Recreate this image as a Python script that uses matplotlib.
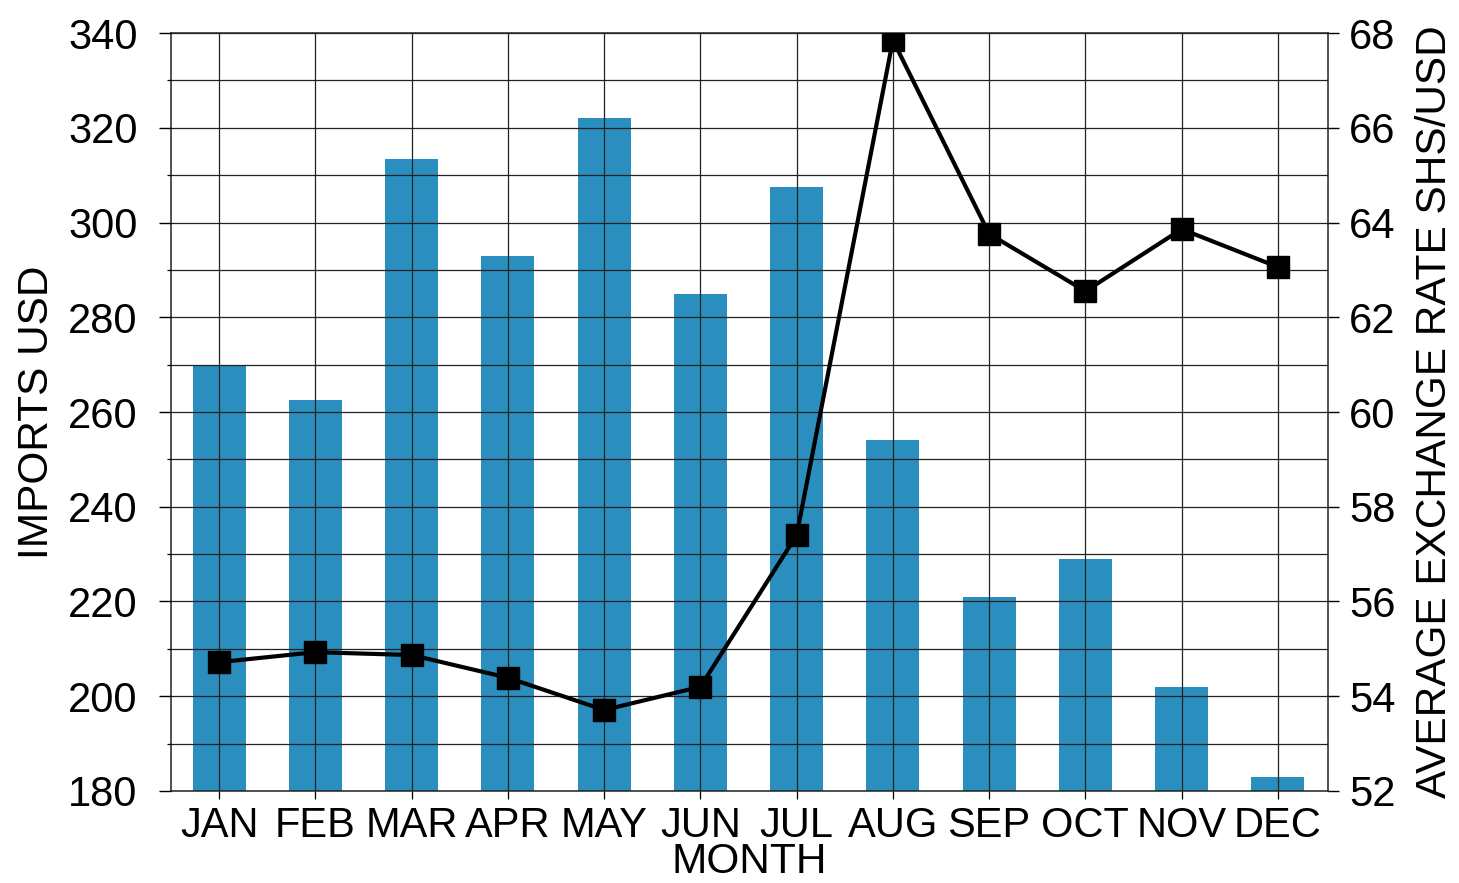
# Importaciones mensuales vs tipo de cambio promedio (SHS/USD)
import numpy as np
import matplotlib
matplotlib.use("Agg")
import matplotlib.pyplot as plt
from matplotlib.ticker import MultipleLocator

plt.rcParams['font.family'] = ['Liberation Sans', 'DejaVu Sans']

# Datos
months = ['JAN', 'FEB', 'MAR', 'APR', 'MAY', 'JUN', 'JUL', 'AUG', 'SEP', 'OCT', 'NOV', 'DEC']
imports_usd = [270, 262.5, 313.5, 293, 322, 285, 307.5, 254, 221, 229, 202, 183]
exchange_rate = [54.72, 54.93, 54.87, 54.39, 53.71, 54.2, 57.4, 67.85, 63.76, 62.55, 63.86, 63.06]

BAR_COLOR = '#2a8ebf'
GRID_COLOR = '#222222'
FS = 30
FS_LABEL = 30.5

fig = plt.figure(figsize=(14.59, 8.83), dpi=100)
ax = fig.add_axes([0.1172, 0.1042, 0.793, 0.8584])
x = np.arange(len(months))

ax.bar(x, imports_usd, width=0.55, color=BAR_COLOR, zorder=1)
ax.set_xlim(-0.5, 11.52)
ax.set_ylim(180, 340)
ax.set_axisbelow(False)

ax.yaxis.set_major_locator(MultipleLocator(20))
ax.yaxis.set_minor_locator(MultipleLocator(10))
ax.set_xticks(x)
ax.set_xticklabels(months)
ax.grid(True, which='both', axis='y', color=GRID_COLOR, lw=0.9)
ax.grid(True, which='major', axis='x', color=GRID_COLOR, lw=0.9)

ax.tick_params(axis='y', which='major', length=9, width=1, pad=15, labelsize=FS)
ax.tick_params(axis='y', which='minor', length=3, width=0.9)
ax.tick_params(axis='x', length=6, width=0.9, pad=5, labelsize=FS)
for s in ax.spines.values():
    s.set_color(GRID_COLOR)
    s.set_linewidth(1.1)

ax.set_xlabel('MONTH', fontsize=FS_LABEL, labelpad=-3)
ax.set_ylabel('IMPORTS USD', fontsize=FS_LABEL, labelpad=8)

# Eje derecho: tipo de cambio
ax2 = ax.twinx()
ax2.plot(x, exchange_rate, color='black', lw=3, marker='s', markersize=16, zorder=3)
ax2.set_ylim(52, 68)
ax2.yaxis.set_major_locator(MultipleLocator(2))
ax2.tick_params(axis='y', length=8, width=1, pad=7, labelsize=FS)
ax2.set_ylabel('AVERAGE EXCHANGE RATE SHS/USD', fontsize=FS_LABEL, labelpad=14)
for s in ax2.spines.values():
    s.set_visible(False)

fig.savefig('out.png', dpi=100, facecolor='white')
